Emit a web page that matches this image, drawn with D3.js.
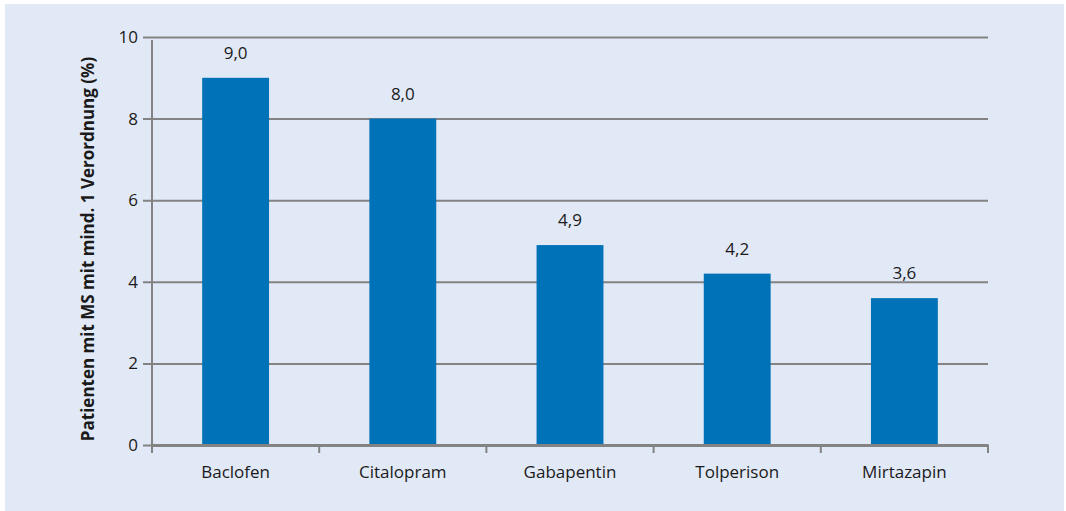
<!DOCTYPE html>
<html>
<head>
<meta charset="utf-8">
<script src="https://cdn.jsdelivr.net/npm/d3@7"></script>
<style>
  body { margin: 0; background: #fff; }
  svg { display: block; }
  svg text { font-family: "Open Sans", "Noto Sans", sans-serif; }
</style>
</head>
<body>
<svg id="chart" width="1066" height="511"></svg>
<script>
const categories = ['Baclofen', 'Citalopram', 'Gabapentin', 'Tolperison', 'Mirtazapin'];
const values = [9.0, 8.0, 4.9, 4.2, 3.6];
const yTicks = [0, 2, 4, 6, 8, 10];
const yTitle = 'Patienten mit MS mit mind. 1 Verordnung (%)';

const svg = d3.select('#chart');
const margin = { top: 37, right: 78, bottom: 66, left: 152 };
const width = 1066, height = 511;
const innerWidth = width - margin.left - margin.right;
const innerHeight = height - margin.top - margin.bottom;
const textColor = '#1a1a1a';
const axisColor = '#838383';

// panel background
svg.append('rect')
  .attr('x', 5).attr('y', 4)
  .attr('width', 1059).attr('height', 507)
  .attr('fill', '#e1e8f6');

const x = d3.scaleBand().domain(categories).range([0, innerWidth]).paddingInner(0.6).paddingOuter(0.3);
const band = d3.scaleBand().domain(categories).range([0, innerWidth]);
const y = d3.scaleLinear().domain([0, 10]).range([innerHeight, 0]);

const g = svg.append('g').attr('transform', `translate(${margin.left},${margin.top})`);

// gridlines + y ticks
const yAxis = g.append('g')
  .call(d3.axisLeft(y).tickValues(yTicks).tickSize(-innerWidth).tickSizeOuter(0).tickFormat(d3.format('d')));
yAxis.attr('font-family', null);
yAxis.select('.domain').remove();
yAxis.selectAll('.tick line').attr('stroke', axisColor).attr('stroke-width', 2).attr('x1', -9);
yAxis.selectAll('.tick text').attr('x', -14).attr('font-size', 17).attr('fill', textColor);

// bars
g.selectAll('rect.bar')
  .data(values)
  .enter()
  .append('rect')
  .attr('class', 'bar')
  .attr('x', (d, i) => x(categories[i]))
  .attr('y', d => y(d))
  .attr('width', x.bandwidth())
  .attr('height', d => innerHeight - y(d))
  .attr('fill', '#0072b7');

g.selectAll('text.val')
  .data(values)
  .enter()
  .append('text')
  .attr('class', 'val')
  .attr('x', (d, i) => x(categories[i]) + x.bandwidth() / 2)
  .attr('y', d => y(d) - 19)
  .attr('text-anchor', 'middle')
  .attr('font-size', 17)
  .attr('fill', textColor)
  .text(d => d.toFixed(1).replace('.', ','));

// y axis line
g.append('line')
  .attr('x1', 0).attr('x2', 0)
  .attr('y1', 3).attr('y2', innerHeight + 8)
  .attr('stroke', axisColor).attr('stroke-width', 2);

// x axis
const xAxis = g.append('g').attr('transform', `translate(0,${innerHeight})`)
  .call(d3.axisBottom(band).tickSize(0).tickSizeOuter(0));
xAxis.attr('font-family', null);
xAxis.select('.domain').attr('stroke', axisColor).attr('stroke-width', 3);
xAxis.selectAll('.tick text').attr('dy', 0).attr('y', 33).attr('font-size', 17).attr('fill', textColor);

const sepTicks = categories.map(c => band(c)).concat([innerWidth]);
xAxis.selectAll('line.sep')
  .data(sepTicks)
  .enter()
  .append('line')
  .attr('class', 'sep')
  .attr('x1', d => d).attr('x2', d => d)
  .attr('y1', 0).attr('y2', 8)
  .attr('stroke', axisColor).attr('stroke-width', 2);

svg.append('text')
  .attr('transform', `translate(94,${margin.top + innerHeight / 2 + 8}) rotate(-90)`)
  .attr('text-anchor', 'middle')
  .attr('font-size', 17)
  .attr('font-weight', 'bold')
  .attr('fill', textColor)
  .text(yTitle);
</script>
</body>
</html>
